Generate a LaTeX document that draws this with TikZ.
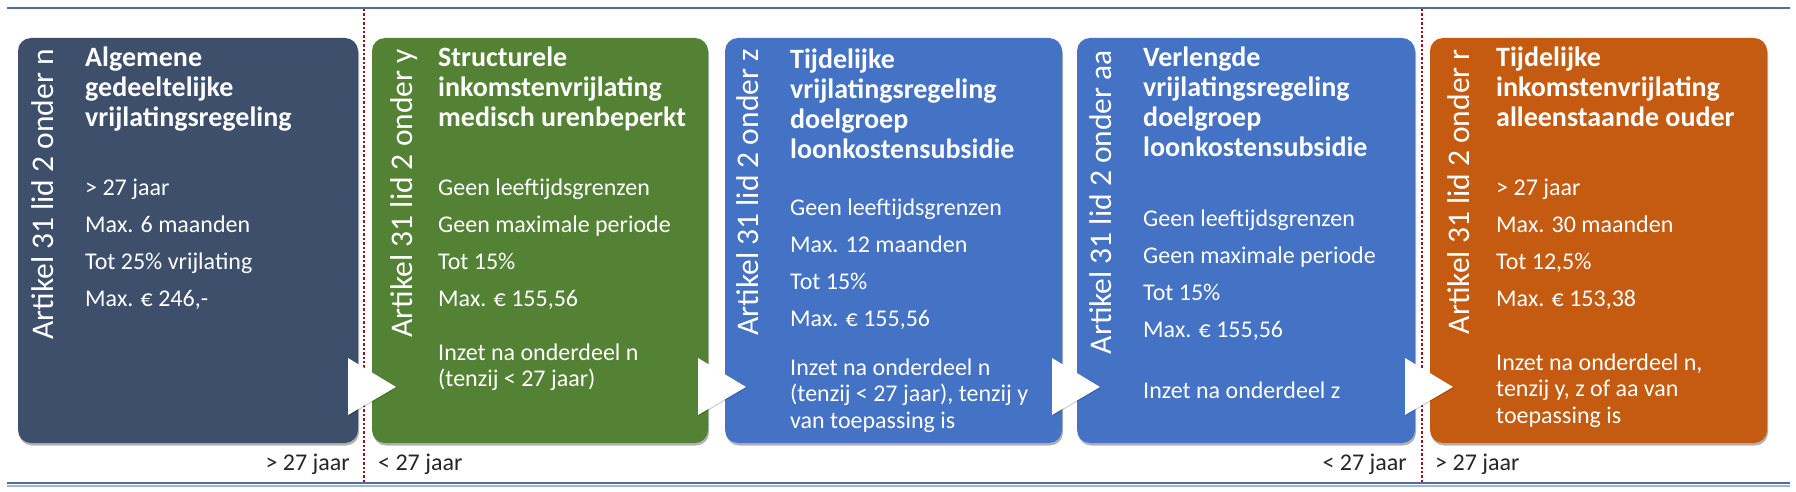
\documentclass[tikz,border=0pt]{standalone}
\usepackage{fontspec}
\setmainfont{Carlito}
\usetikzlibrary{shadows,calc}
\definecolor{slate}{RGB}{62,79,108}
\definecolor{grn}{RGB}{84,130,53}
\definecolor{blu}{RGB}{68,114,196}
\definecolor{orng}{RGB}{197,90,17}
\definecolor{rulecol}{RGB}{80,108,162}
\definecolor{rulelight}{RGB}{160,178,214}
\definecolor{dotred}{RGB}{150,20,30}
\definecolor{labcol}{RGB}{38,38,38}
\begin{document}
\begin{tikzpicture}[x=1pt,y=-1pt,
  box/.style={rounded corners=13pt, inner sep=0pt, outer sep=0pt, anchor=north west,
    minimum height=405pt,
    drop shadow={shadow xshift=1pt, shadow yshift=-2.5pt, opacity=0.3, fill=black}},
  vlab/.style={rotate=90, anchor=base east, inner sep=0pt, text=white,
    font=\fontsize{31.5}{36}\selectfont},
  ttl/.style={anchor=base west, inner sep=0pt, align=left, text=white,
    font=\bfseries\fontsize{28}{30}\selectfont},
  bdy/.style={anchor=base west, inner sep=0pt, align=left, text=white,
    font=\fontsize{24}{37}\selectfont},
  inz/.style={anchor=base west, inner sep=0pt, align=left, text=white,
    font=\fontsize{24}{26.5}\selectfont},
  tri/.style={fill=white, drop shadow={shadow xshift=0.8pt, shadow yshift=-0.8pt, opacity=0.2, fill=black}},
  lab/.style={inner sep=0pt, text=labcol, font=\fontsize{24}{28}\selectfont},
  dotline/.style={draw=dotred, line width=2.6pt, dash pattern=on 2.4pt off 2pt},
]
\useasboundingbox (0,0) rectangle (1796,492);
\fill[white] (0,0) rectangle (1796,492);

% rules
\draw[rulecol, line width=2.5pt] (7,8) -- (1790,8);
\draw[rulelight, line width=2pt] (7,485.5) -- (1790,485.5);
\draw[rulecol, line width=2.5pt] (7,483) -- (1790,483);

% boxes
\node[box, fill=slate, minimum width=340pt] (b1) at (18,38) {};
\node[box, fill=grn,   minimum width=336pt] (b2) at (372,38) {};
\node[box, fill=blu,   minimum width=337pt] (b3) at (725,38) {};
\node[box, fill=blu,   minimum width=338pt] (b4) at (1077,38) {};
\node[box, fill=orng,  minimum width=337pt] (b5) at (1430,38) {};

% dotted separators
\coordinate (s1t) at (364,9);
\coordinate (s1b) at (364,482);
\coordinate (s2t) at (1422,9);
\coordinate (s2b) at (1422,482);
\draw[dotline] (s1t) -- (s1b);
\draw[dotline] (s2t) -- (s2b);

% vertical labels
\node[vlab] (v1) at ($(b1.north west)+(35,11)$) {Artikel 31 lid 2 onder n};
\node[vlab] (v2) at ($(b2.north west)+(40,11)$) {Artikel 31 lid 2 onder y};
\node[vlab] (v3) at ($(b3.north west)+(33,11)$) {Artikel 31 lid 2 onder z};
\node[vlab] (v4) at ($(b4.north west)+(34,12)$) {Artikel 31 lid 2 onder aa};
\node[vlab] (v5) at ($(b5.north west)+(39,11)$) {Artikel 31 lid 2 onder r};

% titles (anchored at the baseline of their last line)
\node[ttl] (t1) at ($(b1.north west)+(67,89)$) {Algemene\\gedeeltelijke\\vrijlatingsregeling};
\node[ttl] (t2) at ($(b2.north west)+(66,89)$) {Structurele\\inkomstenvrijlating\\medisch urenbeperkt};
\node[ttl] (t3) at ($(b3.north west)+(65,120)$) {Tijdelijke\\vrijlatingsregeling\\doelgroep\\loonkostensubsidie};
\node[ttl] (t4) at ($(b4.north west)+(66,119)$) {Verlengde\\vrijlatingsregeling\\doelgroep\\loonkostensubsidie};
\node[ttl] (t5) at ($(b5.north west)+(66,89)$) {Tijdelijke\\inkomstenvrijlating\\alleenstaande ouder};

% bodies
\node[bdy] (d1) at ($(b1.north west)+(67,268)$) {> 27 jaar\\Max. 6 maanden\\Tot 25\% vrijlating\\Max. € 246,-};
\node[bdy] (d2) at ($(b2.north west)+(66,268)$) {Geen leeftijdsgrenzen\\Geen maximale periode\\Tot 15\%\\Max. € 155,56};
\node[bdy] (d3) at ($(b3.north west)+(65,288)$) {Geen leeftijdsgrenzen\\Max. 12 maanden\\Tot 15\%\\Max. € 155,56};
\node[bdy] (d4) at ($(b4.north west)+(66,299)$) {Geen leeftijdsgrenzen\\Geen maximale periode\\Tot 15\%\\Max. € 155,56};
\node[bdy] (d5) at ($(b5.north west)+(66,268)$) {> 27 jaar\\Max. 30 maanden\\Tot 12,5\%\\Max. € 153,38};

% inzet
\node[inz] (e2) at ($(b2.north west)+(66,348.5)$) {Inzet na onderdeel n\\(tenzij < 27 jaar)};
\node[inz] (e3) at ($(b3.north west)+(65,390)$) {Inzet na onderdeel n\\(tenzij < 27 jaar), tenzij y\\van toepassing is};
\node[inz] (e4) at ($(b4.north west)+(66,360)$) {Inzet na onderdeel z};
\node[inz] (e5) at ($(b5.north west)+(66,385)$) {Inzet na onderdeel n,\\tenzij y, z of aa van\\toepassing is};

% arrow triangles
\foreach \b in {b1,b2,b3,b4}{
  \fill[tri] ($(\b.south east)+(-10,-85)$) -- ($(\b.south east)+(38,-56)$) -- ($(\b.south east)+(-10,-28)$) -- cycle;
}

% age labels
\node[lab, anchor=base east] (l1) at ($(s1b)+(-14,-12)$) {> 27 jaar};
\node[lab, anchor=base west] (l2) at ($(s1b)+(14,-12)$) {< 27 jaar};
\node[lab, anchor=base east] (l3) at ($(s2b)+(-15,-12)$) {< 27 jaar};
\node[lab, anchor=base west] (l4) at ($(s2b)+(13,-12)$) {> 27 jaar};
\end{tikzpicture}
\end{document}
